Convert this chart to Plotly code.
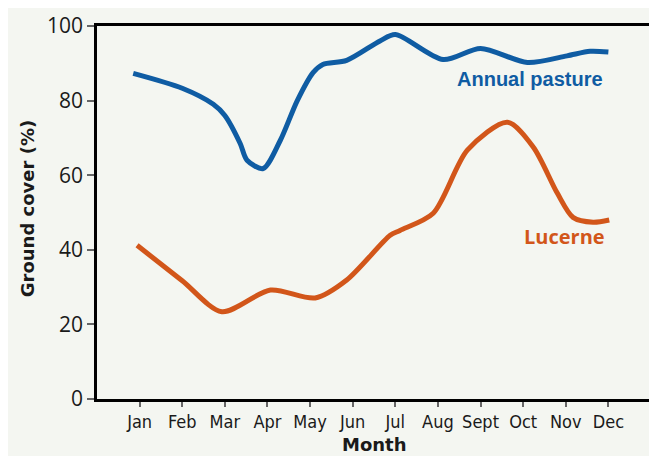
import plotly.graph_objects as go

months = ["Jan", "Feb", "Mar", "Apr", "May", "Jun", "Jul", "Aug", "Sept", "Oct", "Nov", "Dec"]
month_pos = list(range(1, 13))

# Annual pasture (x in month units, Jan = 1)
pasture_x = [0.85, 2.0, 2.73, 3.0, 3.36, 3.52, 3.9, 4.3, 4.7, 5.07, 5.3, 5.86, 6.64, 7.0, 8.12, 9.0, 10.1, 11.03, 11.57, 12.0]
pasture_y = [87.3, 83.3, 79.0, 76.0, 68.5, 64.0, 61.8, 69.3, 80.0, 87.5, 89.7, 90.8, 96.0, 97.7, 91.0, 94.0, 90.2, 92.0, 93.2, 93.0]

# Lucerne
lucerne_x = [0.94, 2.0, 2.93, 4.07, 5.12, 5.86, 6.88, 7.11, 7.89, 8.69, 9.63, 10.24, 10.8, 11.17, 11.64, 12.02]
lucerne_y = [41.2, 31.7, 23.4, 29.2, 27.1, 31.9, 43.9, 45.2, 49.8, 66.7, 74.2, 67.5, 55.2, 48.7, 47.4, 48.0]

yticks = [0, 20, 40, 60, 80, 100]

BLUE = "#0f5ca3"
ORANGE = "#d2561a"
BG = "#f4f6f1"

fig = go.Figure()
fig.add_trace(go.Scatter(x=pasture_x, y=pasture_y, mode="lines",
                         line=dict(color=BLUE, width=5, shape="spline", smoothing=0.8),
                         showlegend=False))
fig.add_trace(go.Scatter(x=lucerne_x, y=lucerne_y, mode="lines",
                         line=dict(color=ORANGE, width=5, shape="spline", smoothing=0.8),
                         showlegend=False))

OFF = 8  # page body margin
W, H = 657, 456
L, R, T, B = 89, 14, 17.5, 65
pw = W - L - R
ph = H - T - B

def px2x(px):
    return (px - OFF - L) / pw

def py2y(py):
    return (H - B - (py - OFF)) / ph

fig.add_annotation(x=10.16, y=85.9, xref="x", yref="y", text="<b>Annual pasture</b>",
                   xanchor="center", yanchor="middle",
                   showarrow=False, font=dict(family="Liberation Sans, Arial, sans-serif", size=20, color=BLUE))
fig.add_annotation(x=10.96, y=43.6, xref="x", yref="y", text="<b>Lucerne</b>",
                   xanchor="center", yanchor="middle",
                   showarrow=False, font=dict(family="Open Sans, sans-serif", size=20, color=ORANGE))

fig.add_annotation(x=px2x(27), y=py2y(209), xref="paper", yref="paper", text="<b>Ground cover (%)</b>",
                   xanchor="center", yanchor="middle",
                   textangle=-90, showarrow=False,
                   font=dict(family="DejaVu Sans, sans-serif", size=18, color="#1a1a1a"))
fig.add_annotation(x=px2x(374), y=py2y(445), xref="paper", yref="paper", text="<b>Month</b>",
                   xanchor="center", yanchor="middle",
                   showarrow=False,
                   font=dict(family="DejaVu Sans, sans-serif", size=18, color="#1a1a1a"))

fig.update_layout(
    width=W, height=H,
    margin=dict(l=L, r=R, t=T, b=B, pad=0, autoexpand=False),
    paper_bgcolor=BG,
    plot_bgcolor=BG,
    showlegend=False,
    xaxis=dict(range=[0, 13], tickvals=month_pos, ticktext=months, automargin=False,
               showgrid=False, zeroline=False,
               showline=True, mirror=True, linecolor="black", linewidth=2.5,
               ticks="outside", ticklen=5, tickwidth=1.5, tickcolor="#666666",
               tickfont=dict(family="Liberation Sans Narrow, DejaVu Sans Condensed, sans-serif", size=18, color="#1a1a1a")),
    yaxis=dict(range=[0, 100], tickvals=yticks, automargin=False,
               showgrid=False, zeroline=False,
               showline=True, mirror=True, linecolor="black", linewidth=2.5,
               ticks="outside", ticklen=7, tickwidth=1.5, tickcolor="#666666",
               tickfont=dict(family="Open Sans, sans-serif", size=21, color="#1a1a1a")),
)

fig.write_html("out.html")
